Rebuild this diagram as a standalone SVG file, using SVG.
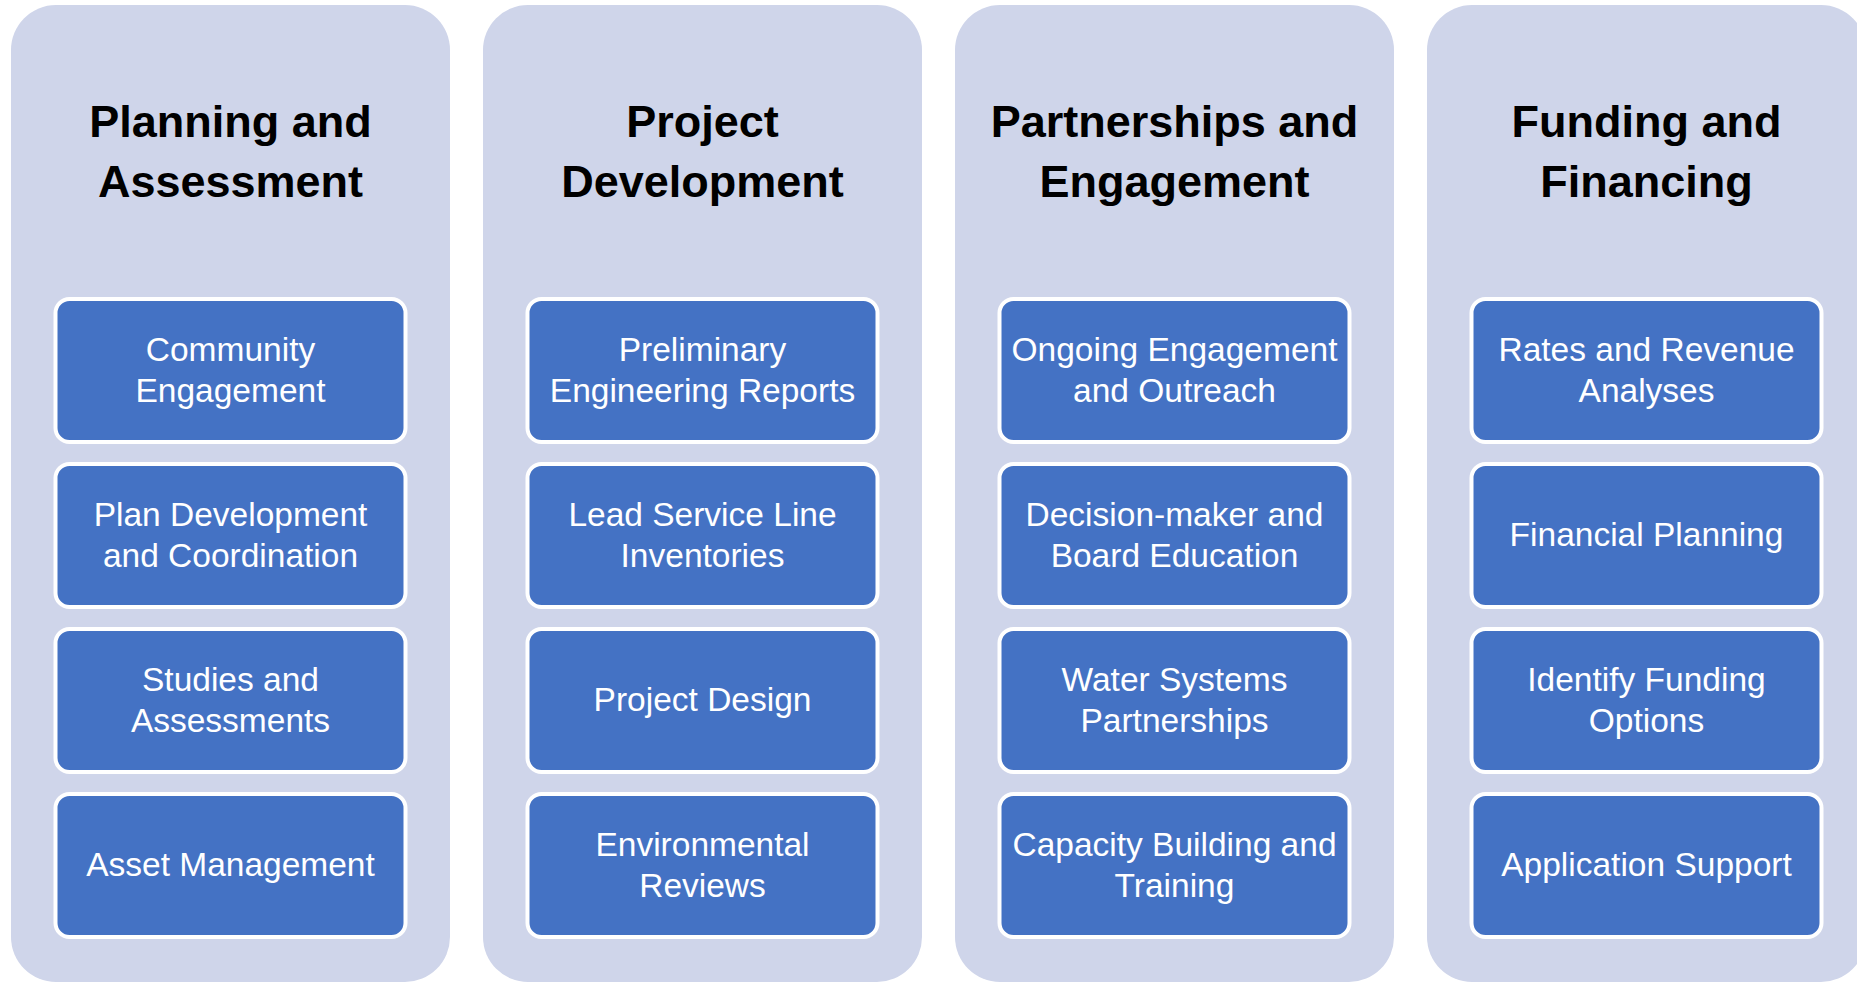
<svg xmlns="http://www.w3.org/2000/svg" width="1857" height="982" viewBox="0 0 1857 982">
<style>
.col{fill:#CFD5EA}
.box{fill:#4472C4;stroke:#FFFFFF;stroke-width:4}
.title{font-family:"Liberation Sans",Arial,sans-serif;font-weight:bold;font-size:45px;fill:#000000;text-anchor:middle}
.lbl{font-family:"Liberation Sans",Arial,sans-serif;font-size:33.5px;fill:#FFFFFF;text-anchor:middle}
</style>
<rect width="1857" height="982" fill="#FFFFFF"/>
<g id="col-planning">
<rect class="col" x="11" y="5" width="439" height="977" rx="45"/>
<text class="title" x="230.5" y="137">Planning and</text>
<text class="title" x="230.5" y="197">Assessment</text>
</g>
<g id="node-community-engagement"><rect class="box" x="55.5" y="299" width="350" height="143" rx="14"/><text class="lbl" x="230.5" y="361">Community</text><text class="lbl" x="230.5" y="402">Engagement</text></g>
<g id="node-plan-development"><rect class="box" x="55.5" y="464" width="350" height="143" rx="14"/><text class="lbl" x="230.5" y="526">Plan Development</text><text class="lbl" x="230.5" y="567">and Coordination</text></g>
<g id="node-studies"><rect class="box" x="55.5" y="629" width="350" height="143" rx="14"/><text class="lbl" x="230.5" y="691">Studies and</text><text class="lbl" x="230.5" y="732">Assessments</text></g>
<g id="node-asset-management"><rect class="box" x="55.5" y="794" width="350" height="143" rx="14"/><text class="lbl" x="230.5" y="876">Asset Management</text></g>

<g id="col-project">
<rect class="col" x="483" y="5" width="439" height="977" rx="45"/>
<text class="title" x="702.5" y="137">Project</text>
<text class="title" x="702.5" y="197">Development</text>
</g>
<g id="node-per"><rect class="box" x="527.5" y="299" width="350" height="143" rx="14"/><text class="lbl" x="702.5" y="361">Preliminary</text><text class="lbl" x="702.5" y="402">Engineering Reports</text></g>
<g id="node-lsl"><rect class="box" x="527.5" y="464" width="350" height="143" rx="14"/><text class="lbl" x="702.5" y="526">Lead Service Line</text><text class="lbl" x="702.5" y="567">Inventories</text></g>
<g id="node-project-design"><rect class="box" x="527.5" y="629" width="350" height="143" rx="14"/><text class="lbl" x="702.5" y="711">Project Design</text></g>
<g id="node-env-reviews"><rect class="box" x="527.5" y="794" width="350" height="143" rx="14"/><text class="lbl" x="702.5" y="856">Environmental</text><text class="lbl" x="702.5" y="897">Reviews</text></g>

<g id="col-partnerships">
<rect class="col" x="955" y="5" width="439" height="977" rx="45"/>
<text class="title" x="1174.5" y="137">Partnerships and</text>
<text class="title" x="1174.5" y="197">Engagement</text>
</g>
<g id="node-ongoing"><rect class="box" x="999.5" y="299" width="350" height="143" rx="14"/><text class="lbl" x="1174.5" y="361">Ongoing Engagement</text><text class="lbl" x="1174.5" y="402">and Outreach</text></g>
<g id="node-decision"><rect class="box" x="999.5" y="464" width="350" height="143" rx="14"/><text class="lbl" x="1174.5" y="526">Decision-maker and</text><text class="lbl" x="1174.5" y="567">Board Education</text></g>
<g id="node-water-systems"><rect class="box" x="999.5" y="629" width="350" height="143" rx="14"/><text class="lbl" x="1174.5" y="691">Water Systems</text><text class="lbl" x="1174.5" y="732">Partnerships</text></g>
<g id="node-capacity"><rect class="box" x="999.5" y="794" width="350" height="143" rx="14"/><text class="lbl" x="1174.5" y="856">Capacity Building and</text><text class="lbl" x="1174.5" y="897">Training</text></g>

<g id="col-funding">
<rect class="col" x="1427" y="5" width="439" height="977" rx="45"/>
<text class="title" x="1646.5" y="137">Funding and</text>
<text class="title" x="1646.5" y="197">Financing</text>
</g>
<g id="node-rates"><rect class="box" x="1471.5" y="299" width="350" height="143" rx="14"/><text class="lbl" x="1646.5" y="361">Rates and Revenue</text><text class="lbl" x="1646.5" y="402">Analyses</text></g>
<g id="node-financial-planning"><rect class="box" x="1471.5" y="464" width="350" height="143" rx="14"/><text class="lbl" x="1646.5" y="546">Financial Planning</text></g>
<g id="node-identify-funding"><rect class="box" x="1471.5" y="629" width="350" height="143" rx="14"/><text class="lbl" x="1646.5" y="691">Identify Funding</text><text class="lbl" x="1646.5" y="732">Options</text></g>
<g id="node-application"><rect class="box" x="1471.5" y="794" width="350" height="143" rx="14"/><text class="lbl" x="1646.5" y="876">Application Support</text></g>
<g id="connectors"></g>
</svg>
